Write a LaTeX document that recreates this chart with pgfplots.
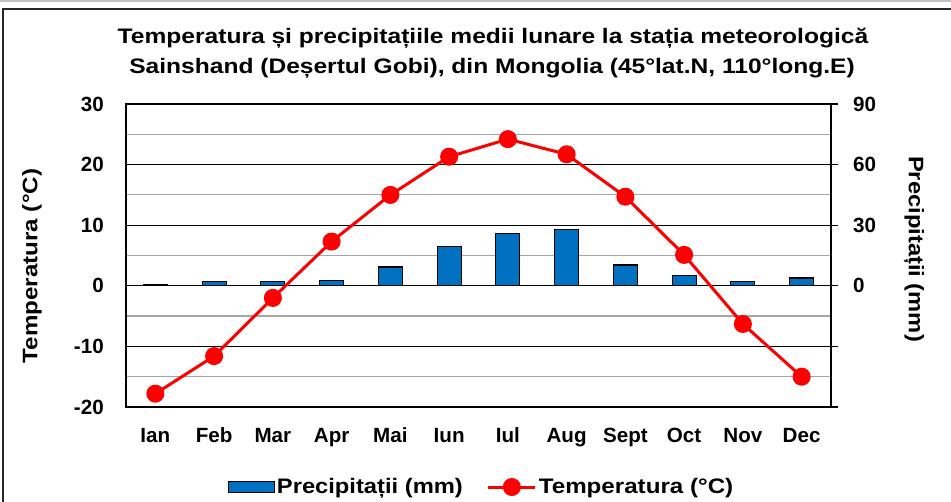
\documentclass[border=0pt]{standalone}
\usepackage{fontspec}
\setmainfont{Liberation Sans}
\usepackage{graphicx}
\usepackage{pgfplots}
\pgfplotsset{compat=1.18}
\definecolor{barblue}{HTML}{0070C0}
\definecolor{gridgray}{HTML}{A6A6A6}
\pgfplotsset{
  base/.style={at={(63pt,47.5pt)}, anchor=south west, scale only axis,
    width=352.5pt, height=151.5pt, xmin=0.5, xmax=12.5,
    tick label style={font=\fontsize{10.3}{12}\selectfont\bfseries}},
  barlegend/.style={legend image code/.code={\draw[##1] (0pt,-2.75pt) rectangle (23pt,2.75pt);}},
  linelegend/.style={legend image code/.code={\draw[##1, mark repeat=2, mark phase=2] plot coordinates {(0pt,0pt) (11.75pt,0pt) (23.5pt,0pt)};}},
}
\begin{document}
\begin{tikzpicture}[font=\fontsize{10.5}{15}\selectfont\bfseries]
\clip (0,0) rectangle (475.5pt,251pt);
\fill[white] (0,0) rectangle (475.5pt,251pt);
\fill[gray!50] (0,250pt) rectangle (475.5pt,251pt);
\draw[black!85, line width=0.6pt] (1.5pt,-10pt) rectangle (490pt,246.5pt);
\node[inner sep=0pt] at (246.5pt,232pt)
  {\scalebox{1.17}[1]{Temperatura și precipitațiile medii lunare la stația meteorologică}};
\node[inner sep=0pt] at (246pt,217pt)
  {\scalebox{1.17}[1]{Sainshand (Deșertul Gobi), din Mongolia (45°lat.N, 110°long.E)}};
\node[rotate=90, inner sep=0pt] at (16pt,118pt) {\scalebox{1.15}[1]{Temperatura (°C)}};
\node[rotate=-90, inner sep=0pt] at (457pt,126.5pt) {\scalebox{1.13}[1]{Precipitații (mm)}};

% axis 1: temperature scale, grid, month labels
\begin{axis}[base, ymin=-20, ymax=30,
  ytick={-20,-10,0,10,20,30}, yticklabels={-20,-10,0,10,20,30},
  minor ytick={-15,-5,5,15,25},
  ymajorgrids, yminorgrids,
  major grid style={black, line width=0.6pt},
  minor grid style={gridgray, line width=0.6pt},
  xtick={1,...,12},
  xticklabels={Ian,Feb,Mar,Apr,Mai,Iun,Iul,Aug,Sept,Oct,Nov,Dec},
  major tick length=0pt, minor tick length=0pt,
  axis line style={black, line width=0.6pt},
  yticklabel style={xshift=-7.6pt},
  xticklabel style={yshift=-7pt}]
\addplot[draw=none] coordinates {(1,0)};
\end{axis}

% axis 2: precipitation bars, right scale
\begin{axis}[base, ymin=-60, ymax=90,
  axis x line=none, axis y line*=right,
  ytick={-60,-30,0,30,60,90}, yticklabels={,,0,30,60,90},
  tick align=outside, major tick length=3.5pt,
  ytick style={black, line width=0.6pt},
  axis line style={black, line width=0.6pt},
  yticklabel style={xshift=4pt}]
\addplot[ybar, bar width=12pt, fill=barblue, draw=black, line width=0.6pt]
  coordinates {(1,0.8) (2,2) (3,2) (4,2.8) (5,9.3) (6,19.3) (7,25.7) (8,28) (9,10.3) (10,4.9) (11,2.3) (12,3.9)};
\end{axis}

% axis 3: temperature line + legend
\begin{axis}[base, ymin=-20, ymax=30, hide axis,
  legend style={at={([xshift=1.5pt,yshift=-40pt]axis description cs:0.5,0)}, anchor=center,
    draw=none, fill=none, legend columns=2,
    font=\fontsize{10.5}{12}\selectfont\bfseries,
    /tikz/every even column/.append style={column sep=11pt},
    nodes={inner sep=1pt}},
  legend cell align=left]
\addlegendimage{fill=barblue, draw=black, line width=0.6pt, barlegend}
\addlegendentry{\scalebox{1.13}[1]{Precipitații (mm)}}
\addplot[red, line width=1.5pt, mark=*, mark size=3.75pt, mark options={fill=red, draw=red}, linelegend]
  coordinates {(1,-17.8) (2,-11.6) (3,-2.0) (4,7.3) (5,15.0) (6,21.3) (7,24.2) (8,21.7) (9,14.7) (10,5.1) (11,-6.3) (12,-15.0)};
\addlegendentry{\scalebox{1.15}[1]{Temperatura (°C)}}
\end{axis}
\end{tikzpicture}
\end{document}
